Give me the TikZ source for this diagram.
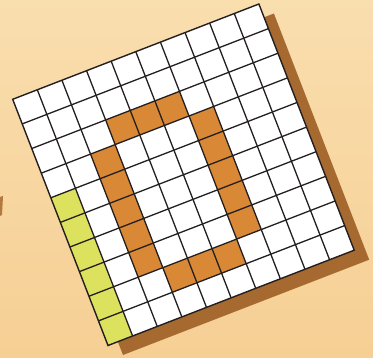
\documentclass[tikz,border=0pt]{standalone}
\definecolor{bgtop}{HTML}{F9DEAE}
\definecolor{bgbot}{HTML}{F6CF94}
\definecolor{shadowc}{HTML}{A66A31}
\definecolor{orangec}{HTML}{D98835}
\definecolor{yellowc}{HTML}{DCE15E}
\definecolor{linec}{HTML}{231F20}
\tikzset{
  gridframe/.style={shift={(#1)}, x={(24.62pt,9.53pt)}, y={(9.53pt,-24.62pt)}},
  gridline/.style={draw=linec, line width=1.3pt},
  orangecell/.style={fill=orangec},
  yellowcell/.style={fill=yellowc}
}
\begin{document}
\begin{tikzpicture}[x=1pt,y=1pt]
\shade[top color=bgtop,bottom color=bgbot] (0,0) rectangle (373,357);
\useasboundingbox (0,0) rectangle (373,357);
% small brown sliver at the left edge
\fill[shadowc!85!bgbot] (0,141) -- (0,160) -- (3,161) -- (2,142) -- cycle;
% shadow
\begin{scope}[gridframe={27.7pt,248.2pt}]
  \fill[shadowc] (0,0) -- (10,0) -- (10,10) -- (0,10) -- cycle;
\end{scope}
% grid
\begin{scope}[gridframe={12.7pt,257.7pt}]
  \fill[white] (0,0) -- (10,0) -- (10,10) -- (0,10) -- cycle;
  \fill[yellowcell] (0,4) -- (1,4) -- (1,10) -- (0,10) -- cycle;
  \foreach \i/\j in {3/2,4/2,5/2,6/3,6/4,6/5,6/6,6/7,3/8,4/8,5/8,2/3,2/4,2/5,2/6,2/7}
    \fill[orangecell] (\i,\j) -- ++(1,0) -- ++(0,1) -- ++(-1,0) -- cycle;
  \foreach \k in {1,...,9} {
    \draw[gridline] (\k,0) -- (\k,10);
    \draw[gridline] (0,\k) -- (10,\k);
  }
  \draw[gridline, line width=1.4pt, line join=miter] (0,0) -- (10,0) -- (10,10) -- (0,10) -- cycle;
\end{scope}
\end{tikzpicture}
\end{document}
